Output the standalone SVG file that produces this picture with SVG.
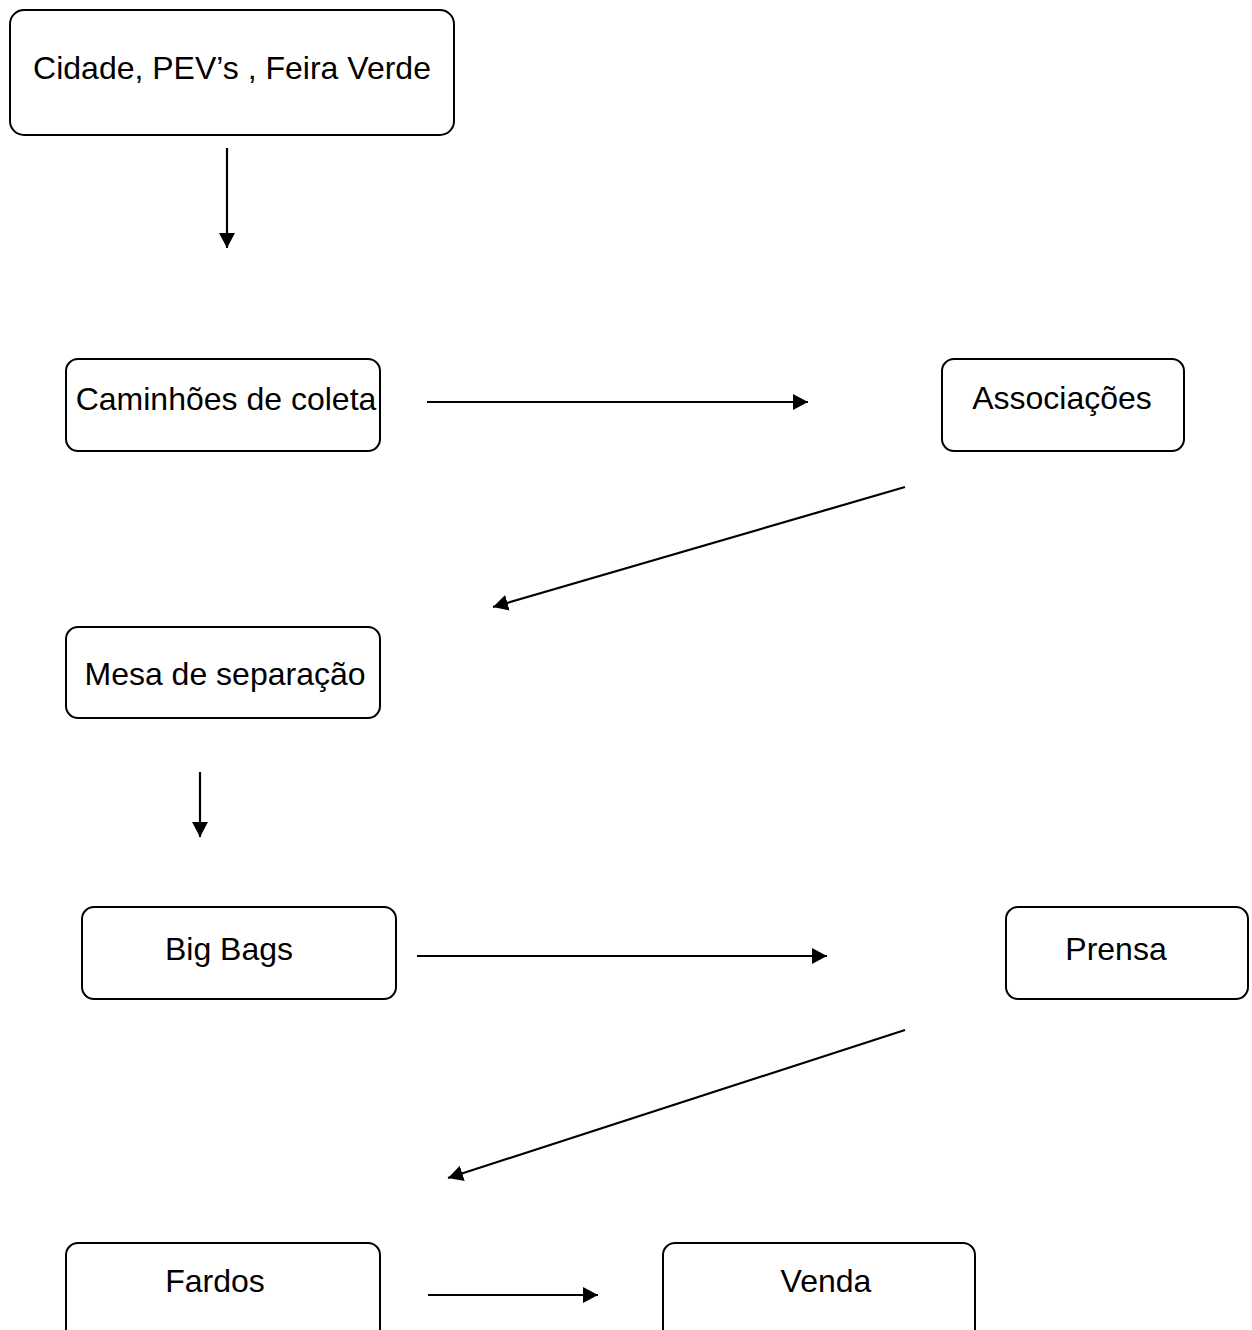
<svg xmlns="http://www.w3.org/2000/svg" width="1252" height="1330" viewBox="0 0 1252 1330">
<style>
.box{fill:#fff;stroke:#000;stroke-width:2}
.lbl{font-family:"Liberation Sans",Arial,sans-serif;font-size:32px;fill:#000;text-anchor:middle}
.con{stroke:#000;stroke-width:2.2;fill:none;marker-end:url(#ah)}
</style>
<defs>
<marker id="ah" markerUnits="userSpaceOnUse" markerWidth="16" markerHeight="16" refX="15" refY="8" orient="auto">
<path d="M0,0 L15,8 L0,16 z" fill="#000"/>
</marker>
</defs>
<rect width="1252" height="1330" fill="#fff"/>
<g id="connectors">
<line class="con" x1="227" y1="148" x2="227" y2="248"/>
<line class="con" x1="427" y1="402" x2="808" y2="402"/>
<line class="con" x1="905" y1="487" x2="493" y2="607"/>
<line class="con" x1="200" y1="772" x2="200" y2="837"/>
<line class="con" x1="417" y1="956" x2="827" y2="956"/>
<line class="con" x1="905" y1="1030" x2="448" y2="1178"/>
<line class="con" x1="428" y1="1295" x2="598" y2="1295"/>
</g>
<g id="n-cidade"><rect class="box" x="10" y="10" width="444" height="125" rx="14"/><text class="lbl" x="232" y="79">Cidade, PEV’s , Feira Verde</text></g>
<g id="n-caminhoes"><rect class="box" x="66" y="359" width="314" height="92" rx="12"/><text class="lbl" x="226" y="410">Caminhões de coleta</text></g>
<g id="n-associacoes"><rect class="box" x="942" y="359" width="242" height="92" rx="12"/><text class="lbl" x="1062" y="409">Associações</text></g>
<g id="n-mesa"><rect class="box" x="66" y="627" width="314" height="91" rx="12"/><text class="lbl" x="225" y="685">Mesa de separação</text></g>
<g id="n-bigbags"><rect class="box" x="82" y="907" width="314" height="92" rx="12"/><text class="lbl" x="229" y="960">Big Bags</text></g>
<g id="n-prensa"><rect class="box" x="1006" y="907" width="242" height="92" rx="12"/><text class="lbl" x="1116" y="960">Prensa</text></g>
<g id="n-fardos"><rect class="box" x="66" y="1243" width="314" height="100" rx="12"/><text class="lbl" x="215" y="1292">Fardos</text></g>
<g id="n-venda"><rect class="box" x="663" y="1243" width="312" height="100" rx="12"/><text class="lbl" x="826" y="1292">Venda</text></g>
</svg>
